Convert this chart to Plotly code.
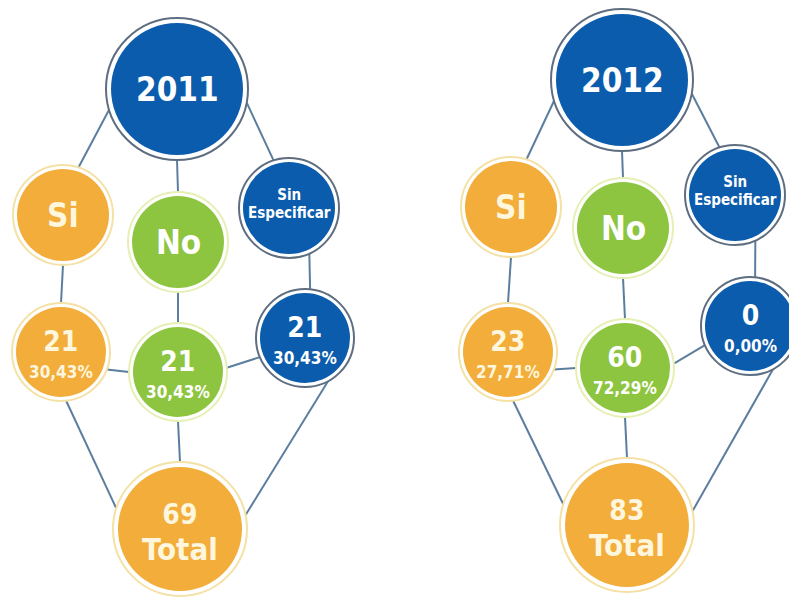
"""Survey result diagram: 2011 vs 2012 node circles drawn with Plotly."""

import math

import plotly.graph_objects as go

# --- data -----------------------------------------------------------------
years = ["2011", "2012"]
categories = [["Si"], ["No"], ["Sin", "Especificar"]]
counts_2011 = [21, 21, 21]
counts_2012 = [23, 60, 0]
totals = [69, 83]

# --- styling / layout -----------------------------------------------------
BLUE = "#0B5CAC"
ORANGE = "#F2AD3B"
GREEN = "#8DC540"
LINE = "#5C7E9E"
FONT = "DejaVu Sans Condensed, Liberation Sans Narrow, Roboto, sans-serif"

CAT_COLORS = [ORANGE, GREEN, BLUE]
RING = {BLUE: "#5E6E80", ORANGE: "#F4E1A6", GREEN: "#E6EFB4"}

# node centres (window pixels) for each panel
PANELS = [
    {
        "year": (177, 89), "cat0": (63, 215), "cat1": (178, 242), "cat2": (289, 208),
        "val0": (61, 352), "val1": (178, 372), "val2": (305, 338), "total": (180, 529),
    },
    {
        "year": (622, 80), "cat0": (511, 207), "cat1": (623, 228), "cat2": (735, 195),
        "val0": (508, 352), "val1": (625, 368), "val2": (750, 326), "total": (627, 525),
    },
]
RADIUS = {"year": 71, "cat": 50, "val": 49, "total": 67}

# edges: (node a, angle on a, node b, angle on b), angles in screen degrees
EDGES = [
    ("year", 163, "cat0", -72),
    ("year", 90, "cat1", -90),
    ("year", 11, "cat2", -108),
    ("cat0", 90, "val0", -90),
    ("cat1", 90, "val1", -90),
    ("cat2", 66, "val2", -84),
    ("val0", 21, "val1", 180),
    ("val1", -5, "val2", 157),
    ("val0", 84, "total", -162),
    ("val1", 90, "total", -90),
    ("val2", 62, "total", -12),
]

# the page body keeps an 8px margin, so the plot starts 8px into the window
W, H, OFFSET = 797, 599, 8


def _radius(node):
    return RADIUS[node[:-1]] if node[:-1] in ("cat", "val") else RADIUS[node]


def _anchor(panel, node, angle):
    cx, cy = panel[node]
    r = _radius(node)
    a = math.radians(angle)
    return cx + r * math.cos(a), cy + r * math.sin(a)


def _pct(value, total):
    return f"{100 * value / total:.2f}%".replace(".", ",")


def _span(text, size):
    return f"<span style='font-size:{size}px'><b>{text}</b></span>"


fig = go.Figure()
annotations = []

for p, panel in enumerate(PANELS):
    counts = counts_2011 if p == 0 else counts_2012
    total = totals[p]

    # connectors
    xs, ys = [], []
    for a, ang_a, b, ang_b in EDGES:
        x0, y0 = _anchor(panel, a, ang_a)
        x1, y1 = _anchor(panel, b, ang_b)
        xs += [x0, x1, None]
        ys += [y0, y1, None]
    fig.add_trace(
        go.Scatter(x=xs, y=ys, mode="lines", line={"color": LINE, "width": 2},
                   hoverinfo="skip", showlegend=False)
    )

    # nodes: (key, fill, label html, base font size -> line spacing, dy)
    nodes = [("year", BLUE, _span(years[p], 33), 33, 0)]
    for i, cat in enumerate(categories):
        if len(cat) == 1:
            nodes.append((f"cat{i}", CAT_COLORS[i], _span(cat[0], 33), 33, 0))
        else:
            label = "<br>".join(_span(c, 15) for c in cat)
            nodes.append((f"cat{i}", CAT_COLORS[i], label, 14, -4))
    for i, value in enumerate(counts):
        label = _span(value, 28) + "<br>" + _span(_pct(value, total), 17)
        nodes.append((f"val{i}", CAT_COLORS[i], label, 21, 1))
    label = _span(total, 28) + "<br>" + _span("Total", 31)
    nodes.append(("total", ORANGE, label, 28, 3))

    for key, fill, label, base, dy in nodes:
        cx, cy = panel[key]
        d = 2 * _radius(key)
        gap = 10 if key in ("year", "total") else 8
        fig.add_trace(go.Scatter(
            x=[cx], y=[cy], mode="markers", hoverinfo="skip", showlegend=False,
            marker={"size": d, "color": "white", "line": {"color": RING[fill], "width": 2}},
        ))
        fig.add_trace(go.Scatter(
            x=[cx], y=[cy], mode="markers", hoverinfo="skip", showlegend=False,
            marker={"size": d - gap, "color": fill, "line": {"width": 0}},
        ))
        annotations.append({
            "x": cx, "y": cy + dy, "xref": "x", "yref": "y", "text": label,
            "showarrow": False, "xanchor": "center", "yanchor": "middle",
            "font": {"family": FONT, "size": base,
                     "color": "#FFF6DE" if fill == ORANGE else "white"},
        })

fig.update_layout(
    width=W - OFFSET,
    height=H - OFFSET,
    margin={"l": 0, "r": 0, "t": 0, "b": 0},
    paper_bgcolor="white",
    plot_bgcolor="white",
    xaxis={"range": [OFFSET, W], "visible": False, "fixedrange": True},
    yaxis={"range": [H, OFFSET], "visible": False, "fixedrange": True},
    annotations=annotations,
    showlegend=False,
)

fig.write_html("out.html")
